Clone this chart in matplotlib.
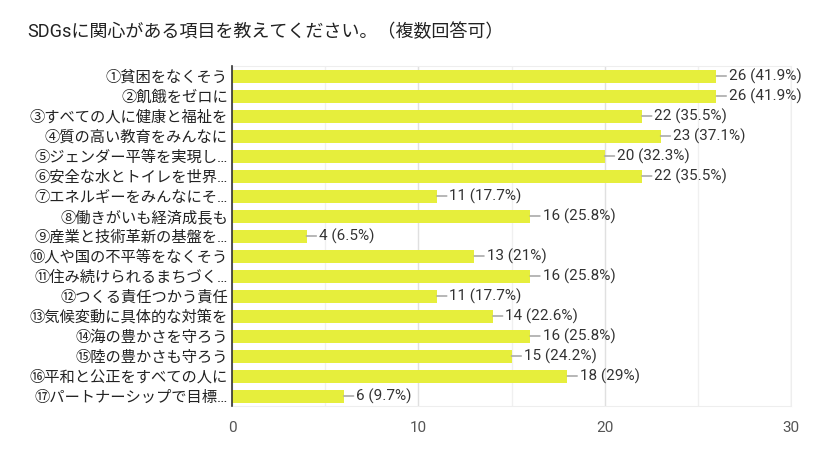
import matplotlib.pyplot as plt
import numpy as np

plt.rcParams['font.family'] = ['Roboto', 'Noto Sans CJK JP', 'DejaVu Sans']

TITLE = "SDGsに関心がある項目を教えてください。（複数回答可）"
labels = [
    "①貧困をなくそう",
    "②飢餓をゼロに",
    "③すべての人に健康と福祉を",
    "④質の高い教育をみんなに",
    "⑤ジェンダー平等を実現し…",
    "⑥安全な水とトイレを世界…",
    "⑦エネルギーをみんなにそ…",
    "⑧働きがいも経済成長も",
    "⑨産業と技術革新の基盤を…",
    "⑩人や国の不平等をなくそう",
    "⑪住み続けられるまちづく…",
    "⑫つくる責任つかう責任",
    "⑬気候変動に具体的な対策を",
    "⑭海の豊かさを守ろう",
    "⑮陸の豊かさも守ろう",
    "⑯平和と公正をすべての人に",
    "⑰パートナーシップで目標…",
]
counts = [26, 26, 22, 23, 20, 22, 11, 16, 4, 13, 16, 11, 14, 16, 15, 18, 6]
percents = ["41.9%", "41.9%", "35.5%", "37.1%", "32.3%", "35.5%", "17.7%", "25.8%",
            "6.5%", "21%", "25.8%", "17.7%", "22.6%", "25.8%", "24.2%", "29%", "9.7%"]
xticks = [0, 10, 20, 30]

BAR_COLOR = "#e6ee3c"

fig = plt.figure(figsize=(8.4, 4.49), dpi=100)
ax = fig.add_axes([232 / 840, 1 - 406 / 449, (791 - 232) / 840, (406 - 66) / 449])

y = np.arange(len(labels))
ax.barh(y, counts, height=0.65, color=BAR_COLOR, zorder=3)

for yi, c, p in zip(y, counts, percents):
    ax.annotate(f"{c} ({p})", xy=(c, yi), xytext=(9, 0), textcoords="offset points",
                va="center", ha="left", fontsize=11, color="#333333",
                arrowprops=dict(arrowstyle="-", color="#aaaaaa", lw=1.2,
                                shrinkA=0, shrinkB=0))

ax.set_xlim(0, 30)
ax.set_ylim(len(labels) - 0.5, -0.5)
ax.set_yticks(y)
ax.set_yticklabels(labels, fontsize=11, color="#222222")
ax.set_xticks(xticks)
ax.set_xticklabels([str(t) for t in xticks], fontsize=11, color="#555555")
ax.set_xticks([5, 15, 25], minor=True)
ax.tick_params(axis="both", which="both", length=0, pad=3)
ax.tick_params(axis="x", which="both", pad=11)

ax.grid(axis="x", which="major", color="#e0e0e0", lw=1, zorder=0)
ax.grid(axis="x", which="minor", color="#f0f0f0", lw=1, zorder=0)
for s in ["top", "right", "bottom"]:
    ax.spines[s].set_color("#eeeeee")
ax.spines["left"].set_color("#333333")
ax.spines["left"].set_linewidth(1.2)
ax.spines["left"].set_zorder(4)

fig.text(27 / 840, 1 - 32 / 449, TITLE, fontsize=13, color="#222222", va="center", ha="left")

fig.savefig("out.png", dpi=100)
